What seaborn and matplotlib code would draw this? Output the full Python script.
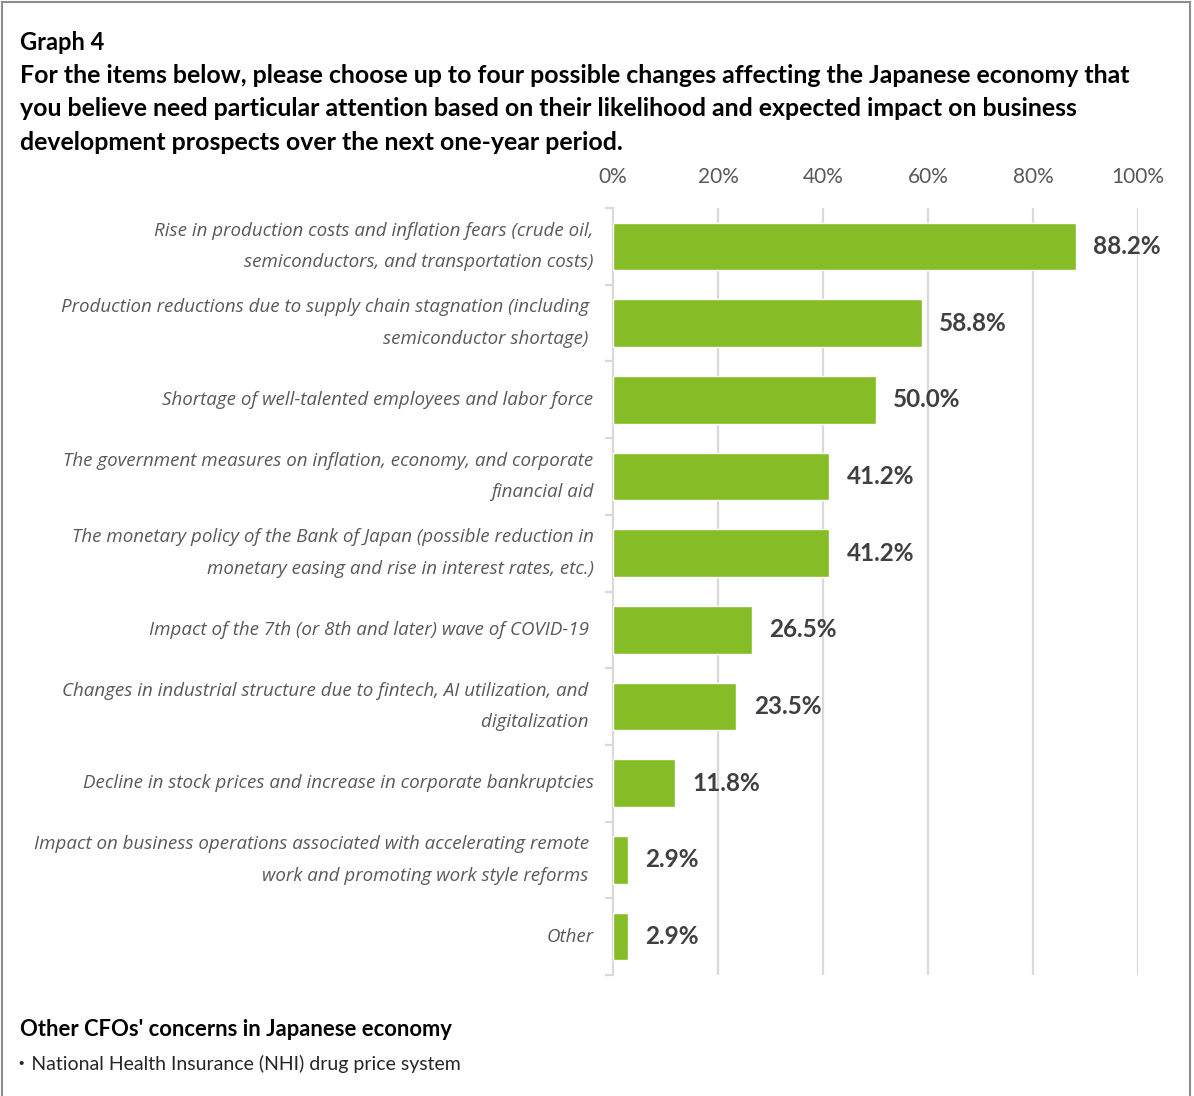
import matplotlib
matplotlib.use("Agg")
import matplotlib.pyplot as plt
import seaborn as sns
import pandas as pd
from matplotlib.patches import Rectangle
from matplotlib.ticker import FixedLocator

categories = [
    "Rise in production costs and inflation fears (crude oil,\nsemiconductors, and transportation costs)",
    "Production reductions due to supply chain stagnation (including \nsemiconductor shortage) ",
    "Shortage of well-talented employees and labor force",
    "The government measures on inflation, economy, and corporate\nfinancial aid",
    "The monetary policy of the Bank of Japan (possible reduction in\nmonetary easing and rise in interest rates, etc.)",
    "Impact of the 7th (or 8th and later) wave of COVID-19 ",
    "Changes in industrial structure due to fintech, AI utilization, and \ndigitalization ",
    "Decline in stock prices and increase in corporate bankruptcies",
    "Impact on business operations associated with accelerating remote \nwork and promoting work style reforms ",
    "Other",
]
values = [88.2, 58.8, 50.0, 41.2, 41.2, 26.5, 23.5, 11.8, 2.9, 2.9]
x_ticks = [0, 20, 40, 60, 80, 100]
x_tick_labels = ["0%", "20%", "40%", "60%", "80%", "100%"]

title_small = "Graph 4"
title_main = ("For the items below, please choose up to four possible changes affecting the Japanese economy that\n"
              "you believe need particular attention based on their likelihood and expected impact on business\n"
              "development prospects over the next one-year period.")
note_head = "Other CFOs' concerns in Japanese economy"
note_item = "\u30fbNational Health Insurance (NHI) drug price system"

sns.set_theme(style="white")
plt.rcParams["font.family"] = ["Lato", "Noto Sans CJK JP", "DejaVu Sans"]

df = pd.DataFrame({"item": categories, "pct": values})

fig = plt.figure(figsize=(11.94, 10.96), dpi=100)
ax = fig.add_axes([613 / 1194, 1 - 975 / 1096, 525 / 1194, 767 / 1096])

sns.barplot(data=df, x="pct", y="item", color="#86BC25", saturation=1,
            width=0.62, ax=ax, orient="h", zorder=3)

ax.set_xlim(0, 100)
ax.set_ylim(9.5, -0.5)
ax.xaxis.tick_top()
ax.set_xticks(x_ticks)
ax.set_xticklabels(x_tick_labels, fontsize=15, color="#595959")
ax.tick_params(axis="x", length=0, pad=15)
ax.set_xlabel("")
ax.set_ylabel("")

# vertical gridlines
for t in x_ticks[1:]:
    ax.axvline(t, color="#D9D9D9", lw=1.6, zorder=1)

for s in ["top", "right", "bottom"]:
    ax.spines[s].set_visible(False)
ax.spines["left"].set_color("#D9D9D9")
ax.spines["left"].set_linewidth(1.6)

ax.set_yticks(range(len(categories)))
ax.set_yticklabels(categories, fontsize=13.5, color="#595959", style="italic",
                   family=["Open Sans", "DejaVu Sans"], linespacing=1.95,
                   va="center")
ax.tick_params(axis="y", which="major", length=0, pad=14)
ax.yaxis.set_minor_locator(FixedLocator([i - 0.5 for i in range(len(categories) + 1)]))
ax.tick_params(axis="y", which="minor", length=6, width=1.6, color="#D9D9D9", left=True)

for i, v in enumerate(values):
    ax.text(v + 3.3, i, f"{v:.1f}%", va="center", ha="left", fontsize=17.5,
            fontweight="bold", color="#404040")

fig.text(20 / 1194, 1 - 43 / 1096, title_small, fontsize=17, fontweight="bold",
         color="black", va="center", ha="left")
fig.text(20 / 1194, 1 - 64 / 1096, title_main, fontsize=17.9, fontweight="bold",
         color="black", va="top", ha="left", linespacing=1.55)
fig.text(20 / 1194, 1 - 1030 / 1096, note_head, fontsize=15.8, fontweight="bold",
         color="black", va="center", ha="left")
fig.text(12 / 1194, 1 - 1064 / 1096, note_item, fontsize=14,
         color="#262626", va="center", ha="left")

fig.patches.append(Rectangle((2 / 1194, -0.01), 1188 / 1194, 1 - 2 / 1096 + 0.01,
                             transform=fig.transFigure, fill=False,
                             edgecolor="#8C8C8C", lw=1.5))

fig.savefig("out.png", dpi=100, facecolor="white")
